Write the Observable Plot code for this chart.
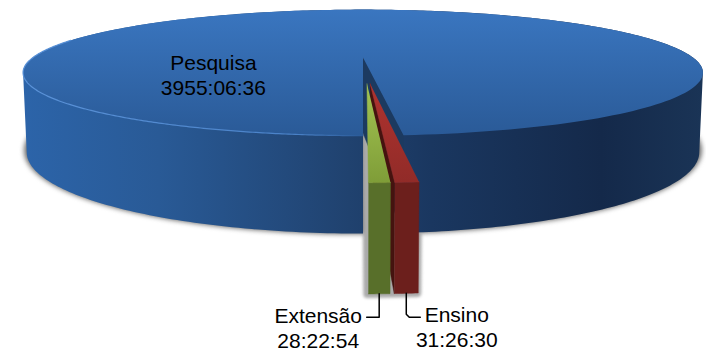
<!DOCTYPE html>
<html><head><meta charset="utf-8">
<script src="https://cdn.jsdelivr.net/npm/d3@7"></script>
<script src="https://cdn.jsdelivr.net/npm/@observablehq/plot@0.6"></script>
<style>
html,body{margin:0;padding:0;background:#fff}
.blur-wide{filter:blur(2.5px)}
.blur-thin{filter:blur(1.5px)}
</style></head><body>
<script>
const categories = ["Pesquisa", "Extensão", "Ensino"];
const durations = ["3955:06:36", "28:22:54", "31:26:30"];
const explosion = [0, 0.4, 0.4];
const nudge = [0, 0.002, -0.008];

const W = 706, H = 354, cx = 362.5, cy = 57, f = 1353;
const s = 0.18, c = Math.sqrt(1 - s * s), D0 = 4.1, h = 0.235;

const seconds = durations.map(d => { const [a, b, e] = d.split(":").map(Number); return a * 3600 + b * 60 + e; });
const total = d3.sum(seconds);
// slices run clockwise from the front of the pie: Extensão, Ensino, Pesquisa
const order = [1, 2, 0];
const angle = {};
let acc = 0;
for (const i of order) { const a0 = acc; acc += seconds[i] / total * 2 * Math.PI; angle[i] = [a0, acc]; }

const proj = (X, Y, Z) => { const D = D0 - Y * c - Z * s; return {u: X / D, v: (Y * s - Z * c) / D}; };
const shift = i => { const m = (angle[i][0] + angle[i][1]) / 2; return [explosion[i] * Math.sin(m) + nudge[i], explosion[i] * Math.cos(m)]; };
const rim = (i, a0, a1, Z, n = 240) => {
  const [ex, ey] = shift(i);
  return d3.range(n + 1).map(k => { const a = a0 + (a1 - a0) * k / n; return proj(ex + Math.sin(a), ey + Math.cos(a), Z); });
};
const hub = (i, Z) => { const [ex, ey] = shift(i); return proj(ex, ey, Z); };

const [b0, b1] = angle[0], [g0, g1] = angle[1], [r0, r1] = angle[2];
// silhouette tangents of the drum, where the rim is widest on screen
const tan = Math.acos(c / D0);
const blueWall = [
  ...rim(0, b0, tan, -h, 80),
  ...rim(0, tan, 2 * Math.PI - tan, 0, 240),
  ...rim(0, 2 * Math.PI - tan, b1, -h, 80),
  hub(0, 0)
];
const blueFace = [hub(0, 0), rim(0, b0, b0, 0, 1)[0], rim(0, b0, b0, -h, 1)[0], hub(0, -h)];
const blueTop = [hub(0, 0), ...rim(0, b0, b1, 0)];
const rimGlow = rim(0, Math.PI * 1.4, b1, 0);

const topOf = (i, a0, a1) => [hub(i, 0), ...rim(i, a0, a1, 0, 8)];
const frontOf = (i, a0, a1) => [...rim(i, a0, a1, 0, 8), ...rim(i, a0, a1, -h, 8).reverse()];
const redInner = [hub(2, 0), rim(2, r0, r0, 0, 1)[0], rim(2, r0, r0, -h, 1)[0], hub(2, -h)];
const sliceShadow = [hub(1, 0), rim(1, g0, g0, -h, 1)[0], rim(2, r1, r1, -h, 1)[0], rim(2, r1, r1, 0, 1)[0], hub(2, 0)];

// label anchors and leaders come from the slices' lower front edges
const px = p => p / f;
const anchorG = rim(1, (g0 + g1) / 2, (g0 + g1) / 2, -h, 1)[0];
const anchorR = rim(2, (r0 + r1) / 2, (r0 + r1) / 2, -h, 1)[0];
const leaderG = [anchorG, {u: anchorG.u, v: anchorG.v + px(23.5)}, {u: anchorG.u - px(12.5), v: anchorG.v + px(23.5)}];
const leaderR = [anchorR, {u: anchorR.u, v: anchorR.v + px(21)}, {u: anchorR.u + px(3), v: anchorR.v + px(24)}, {u: anchorR.u + px(14), v: anchorR.v + px(24)}];
const labels = [
  {...proj(-0.421, 0.297, 0), dv: -2, label: categories[0] + "\n" + durations[0]},
  {u: anchorG.u - px(61), v: anchorG.v + px(33.5), label: categories[1] + "\n" + durations[1]},
  {u: anchorR.u + px(50.5), v: anchorR.v + px(33.5), label: categories[2] + "\n" + durations[2]}
].map(l => ({...l, v: l.v + px(l.dv || 0)}));

const defs = () => {
  const d = d3.create("svg:defs");
  d.html(`
  <linearGradient id="wall" x1="0" x2="1" y1="0" y2="0">
    <stop offset="0" stop-color="#2c64a9"/><stop offset="0.2" stop-color="#295a96"/>
    <stop offset="0.48" stop-color="#20426f"/><stop offset="0.6" stop-color="#1a3760"/>
    <stop offset="0.85" stop-color="#14294a"/><stop offset="1" stop-color="#1a3456"/>
  </linearGradient>
  <linearGradient id="top" x1="0" x2="0" y1="0" y2="1">
    <stop offset="0" stop-color="#3a76c0"/><stop offset="1" stop-color="#2a5a97"/>
  </linearGradient>
  <linearGradient id="glow" x1="0" x2="1" y1="0" y2="0">
    <stop offset="0" stop-color="#5a92d8"/><stop offset="0.8" stop-color="#4a82c8"/><stop offset="1" stop-color="#2a5a97"/>
  </linearGradient>
  <linearGradient id="green" x1="0" x2="0" y1="0" y2="1">
    <stop offset="0" stop-color="#a4c552"/><stop offset="1" stop-color="#7f9d38"/>
  </linearGradient>
  <linearGradient id="red" x1="0" x2="0" y1="0" y2="1">
    <stop offset="0" stop-color="#b0332f"/><stop offset="1" stop-color="#912b28"/>
  </linearGradient>`);
  return d.node();
};

const shape = (pts, fill, extra = {}) => Plot.line(pts, {x: "u", y: "v", fill, stroke: fill, strokeWidth: 0.5, ...extra});

const chart = Plot.plot({
  width: W, height: H, margin: 0,
  style: {background: "white"},
  x: {axis: null, domain: [-cx / f, (W - cx) / f], range: [0, W]},
  y: {axis: null, domain: [-cy / f, (H - cy) / f], range: [0, H]},
  marks: [
    defs,
    Plot.line(rim(0, 0, 2 * Math.PI, -h), {x: "u", y: "v", fill: "#666", stroke: "#666", strokeWidth: 5, dy: -2, className: "blur-wide"}),
    Plot.line(sliceShadow, {x: "u", y: "v", fill: "#aaa", stroke: "#aaa", strokeWidth: 8, dx: -1, className: "blur-thin"}),
    shape(blueWall, "url(#wall)", {stroke: "none"}),
    shape(blueFace, "#1c3a60"),
    shape(blueTop, "url(#top)", {stroke: "none"}),
    Plot.line(rimGlow, {x: "u", y: "v", stroke: "url(#glow)", strokeWidth: 1.2}),
    shape(redInner, "#45130f"),
    shape(frontOf(2, r0, r1), "#6c1f1c"),
    shape(topOf(2, r0, r1), "url(#red)"),
    shape(frontOf(1, g0, g1), "#586f2a"),
    shape(topOf(1, g0, g1), "url(#green)"),
    Plot.line(leaderG, {x: "u", y: "v", stroke: "#000", strokeWidth: 1.5}),
    Plot.line(leaderR, {x: "u", y: "v", stroke: "#000", strokeWidth: 1.5}),
    Plot.text(labels, {x: "u", y: "v", text: "label", fontSize: 21, lineHeight: 1.19, fontFamily: "Liberation Sans", fill: "#000", textAnchor: "middle", lineAnchor: "middle"})
  ]
});
document.body.appendChild(chart);
</script>
</body></html>
